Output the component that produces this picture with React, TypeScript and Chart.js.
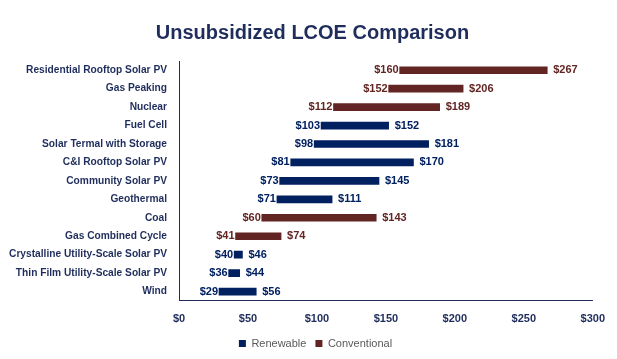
import React, { useEffect, useRef } from "react";
import { Chart, registerables } from "chart.js";

Chart.register(...registerables);

const categories = [
  "Residential Rooftop Solar PV",
  "Gas Peaking",
  "Nuclear",
  "Fuel Cell",
  "Solar Termal with Storage",
  "C&I Rooftop Solar PV",
  "Community Solar PV",
  "Geothermal",
  "Coal",
  "Gas Combined Cycle",
  "Crystalline Utility-Scale Solar PV",
  "Thin Film Utility-Scale Solar PV",
  "Wind",
];

const lowValues = [160, 152, 112, 103, 98, 81, 73, 71, 60, 41, 40, 36, 29];
const highValues = [267, 206, 189, 152, 181, 170, 145, 111, 143, 74, 46, 44, 56];
const types = ["C", "C", "C", "R", "R", "R", "R", "R", "C", "C", "R", "R", "R"];

const xTicks = [0, 50, 100, 150, 200, 250, 300];

const NAVY = "#002060";
const MAROON = "#632523";
const TEXT_NAVY = "#1F2D5C";
const FONT = "'Liberation Sans', Arial, sans-serif";

const renewableData = categories.map((_, i) =>
  types[i] === "R" ? [lowValues[i], highValues[i]] : null
);
const conventionalData = categories.map((_, i) =>
  types[i] === "C" ? [lowValues[i], highValues[i]] : null
);

const labelPlugin = {
  id: "rangeLabels",
  afterLayout(chart: any) {
    if (chart.titleBlock) {
      chart.titleBlock.left += 11;
      chart.titleBlock.right += 11;
    }
    if (chart.legend) {
      chart.legend.left += 14;
      chart.legend.right += 14;
    }
  },
  afterDatasetsDraw(chart: any) {
    const ctx = chart.ctx;
    ctx.save();
    ctx.font = `bold 11px ${FONT}`;
    ctx.textBaseline = "middle";
    chart.data.datasets.forEach((ds: any, di: number) => {
      const meta = chart.getDatasetMeta(di);
      meta.data.forEach((el: any, i: number) => {
        const v = ds.data[i];
        if (!v) return;
        const { x, y, base } = el.getProps(["x", "y", "base"], true);
        const left = Math.min(x, base);
        const right = Math.max(x, base);
        ctx.fillStyle = ds.backgroundColor;
        ctx.textAlign = "right";
        ctx.fillText("$" + v[0], left - 1, y);
        ctx.textAlign = "left";
        ctx.fillText("$" + v[1], right + 6, y);
      });
    });
    ctx.restore();
  },
};

export default function App() {
  const canvasRef = useRef<HTMLCanvasElement | null>(null);

  useEffect(() => {
    if (!canvasRef.current) return;
    const chart = new Chart(canvasRef.current, {
      type: "bar",
      data: {
        labels: categories,
        datasets: [
          {
            label: "Renewable",
            data: renewableData as any,
            backgroundColor: NAVY,
            borderWidth: 0,
            barThickness: 7,
            grouped: false,
          } as any,
          {
            label: "Conventional",
            data: conventionalData as any,
            backgroundColor: MAROON,
            borderWidth: 0,
            barThickness: 7,
            grouped: false,
          } as any,
        ],
      },
      options: {
        indexAxis: "y",
        animation: false,
        responsive: false,
        maintainAspectRatio: false,
        layout: { padding: { left: 8, right: 22, top: 0, bottom: 0 } },
        plugins: {
          title: {
            display: true,
            text: "Unsubsidized LCOE Comparison",
            color: TEXT_NAVY,
            font: { family: FONT, size: 20, weight: "bold" },
            padding: { top: 21, bottom: 16 },
          },
          legend: {
            position: "bottom",
            labels: {
              color: "#595959",
              font: { family: FONT, size: 11 },
              boxWidth: 7,
              boxHeight: 7,
              padding: 9,
            },
          },
          tooltip: { enabled: false },
        },
        scales: {
          x: {
            min: 0,
            max: 300,
            afterBuildTicks: (scale: any) => {
              scale.ticks = xTicks.map((v) => ({ value: v }));
            },
            ticks: {
              color: TEXT_NAVY,
              font: { family: FONT, size: 11, weight: "bold" },
              callback: (v: any) => "$" + v,
              padding: 12,
              maxRotation: 0,
            },
            grid: { display: false, drawTicks: false },
            border: { display: true, color: "#1F2D5C", width: 1 },
            afterFit: (scale: any) => {
              scale.height = scale.height - 9;
            },
          },
          y: {
            ticks: {
              color: TEXT_NAVY,
              font: { family: FONT, size: 10.2, weight: "bold" },
              padding: 12,
              autoSkip: false,
            },
            grid: { display: false, drawTicks: false },
            border: { display: true, color: "#1F2D5C", width: 1 },
            afterFit: (scale: any) => {
              scale.width = 171;
            },
          },
        },
      },
      plugins: [labelPlugin],
    });
    return () => chart.destroy();
  }, []);

  return (
    <div style={{ position: "fixed", left: 0, top: 0, width: 617, height: 359, background: "#fff" }}>
      <canvas ref={canvasRef} width={617} height={359} style={{ width: 617, height: 359 }} />
    </div>
  );
}
